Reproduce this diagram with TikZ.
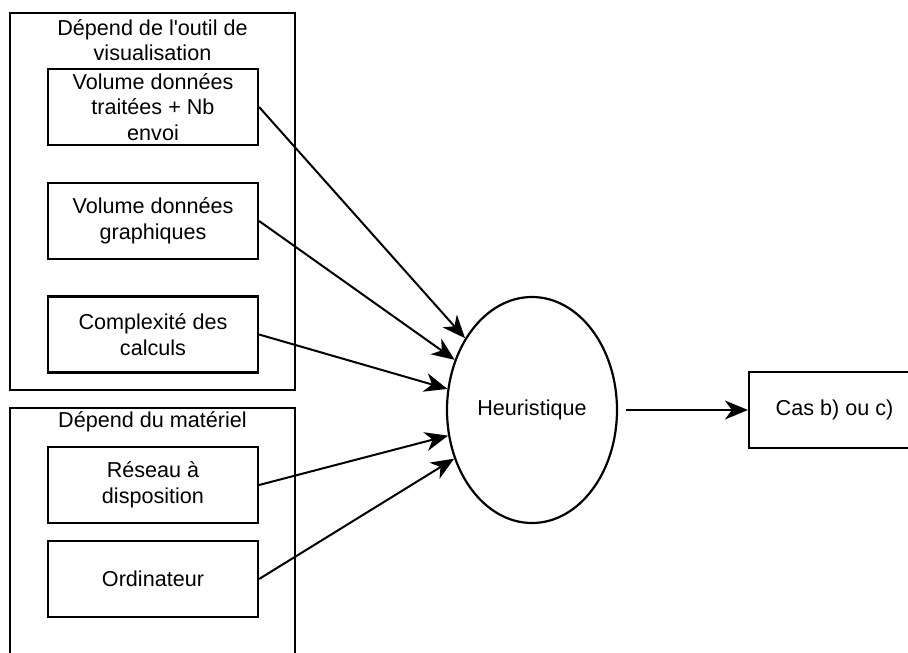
\documentclass[tikz,border=0pt]{standalone}
\usepackage{fontspec}
\newfontfamily\diafont{Liberation Sans}
\usetikzlibrary{shapes.geometric,arrows.meta}
\begin{document}
\begin{tikzpicture}[x=1pt,y=-1pt,
  every node/.style={font=\diafont\fontsize{21.6}{25.5}\selectfont},
  group/.style={draw,line width=2.2pt,rectangle,inner sep=0pt},
  item/.style={draw,line width=2.2pt,rectangle,minimum width=210pt,minimum height=76pt,inner sep=0pt,align=center},
  heur/.style={draw,line width=2.2pt,ellipse,minimum width=170pt,minimum height=226pt,inner sep=0pt},
  flow/.style={line width=2pt,-{Stealth[length=23pt,width=19pt,inset=7pt]}}]
\clip (0,0) rectangle (908,653);
\fill[white] (0,0) rectangle (908,653);

% groups
\node[group,minimum width=285pt,minimum height=377pt] (g1) at (152.5,201.5) {};
\node[group,minimum width=285pt,minimum height=300pt] (g2) at (152.5,558) {};
\node[align=center,inner sep=0pt] (t1) at (152.5,40) {Dépend de l'outil de\\visualisation};
\node[inner sep=0pt] (t2) at (152.5,422) {Dépend du matériel};

% inputs
\node[item] (b1) at (153,107) {Volume données\\traitées + Nb\\envoi};
\node[item] (b2) at (153,221) {Volume données\\graphiques};
\node[item] (b3) at (153,334.5) {Complexité des\\calculs};
\node[item] (b4) at (153,485) {Réseau à\\disposition};
\node[item] (b5) at (153,579) {Ordinateur};

% heuristic and result
\node[heur] (h) at (532,410) {Heuristique};
\node[item,minimum width=171pt] (c) at (834.5,410) {Cas b) ou c)};

\draw[flow] (b1.east) -- (h.133);
\draw[flow] (b2.east) -- (h.147);
\draw[flow] (b3.east) -- (h.166);
\draw[flow] (b4.east) -- (h.197);
\draw[flow] (b5.east) -- (h.212);
\draw[flow,shorten <=8pt] (h.east) -- (c.west);
\end{tikzpicture}
\end{document}
